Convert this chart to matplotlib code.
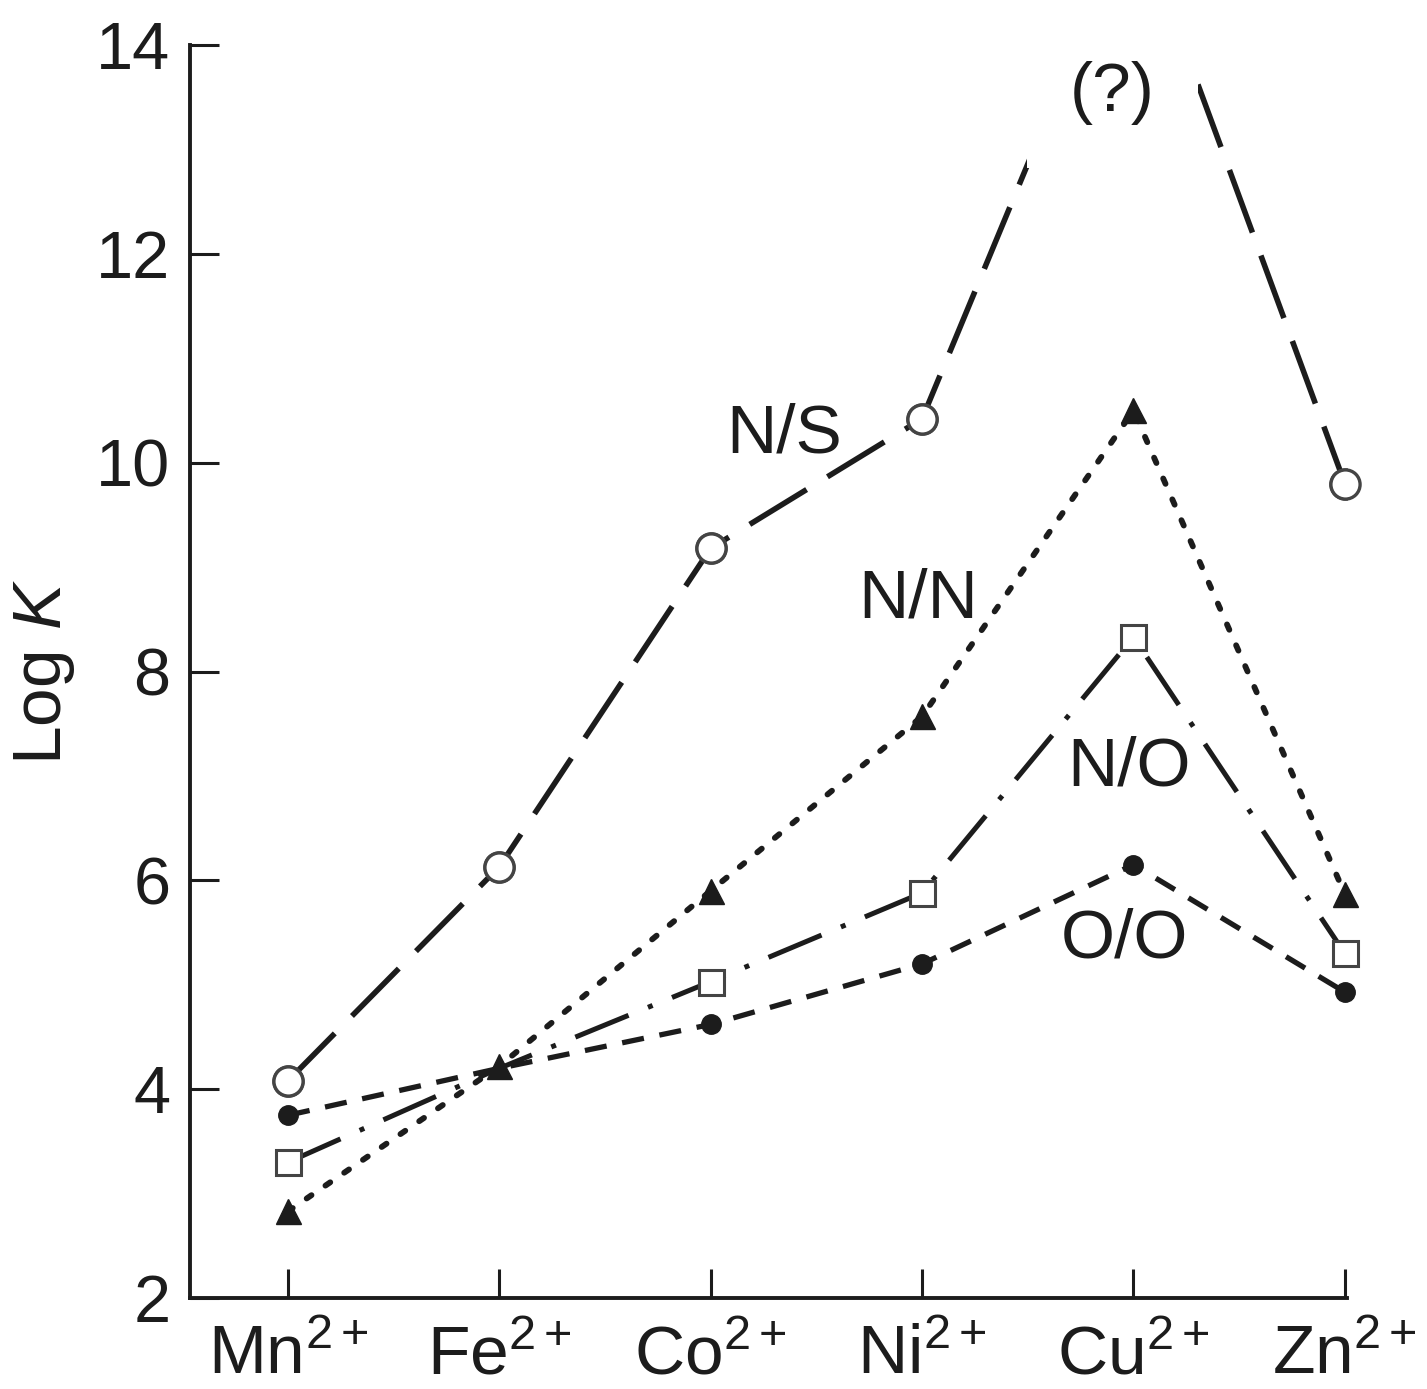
import numpy as np
import matplotlib
matplotlib.use("Agg")
import matplotlib.pyplot as plt

plt.rcParams['font.family'] = ['Liberation Sans', 'DejaVu Sans']
plt.rcParams['mathtext.fontset'] = 'custom'
plt.rcParams['mathtext.rm'] = 'Liberation Sans'
plt.rcParams['mathtext.it'] = 'Liberation Sans:italic'

# metal ions (Irving-Williams order)
ions = ['Mn', 'Fe', 'Co', 'Ni', 'Cu', 'Zn']
tick_labels = [r'%s$^{2+}$' % m for m in ions]

# log K values
ns_vals = [4.08, 6.13, 9.18, 10.42, 15.3, 9.80]   # N/S, Cu off scale (?)
nn_vals = [2.83, 4.22, 5.90, 7.57, 10.50, 5.87]   # N/N
no_vals = [3.30, 4.20, 5.03, 5.88, 8.33, 5.30]    # N/O
oo_vals = [3.75, 4.20, 4.62, 5.20, 6.15, 4.93]    # O/O

ink = '#1c1c1c'
fs = 50

fig = plt.figure(figsize=(14.27, 13.89), dpi=100)
ax = fig.add_axes([0.1331, 0.0655, 0.8108, 0.9021])

x = np.arange(len(ions))
no_fe = [0, 2, 3, 4, 5]   # Fe point hidden under the triangle in the original

ax.plot(x, oo_vals, color=ink, lw=3.8, linestyle=(0, (4.2, 3.0)),
        marker='o', ms=14, mfc=ink, mec=ink, markevery=no_fe,
        zorder=2, clip_on=False)
ax.plot(x, no_vals, color=ink, lw=3.6, linestyle=(0, (11.5, 4.2, 1, 4.2)),
        marker='s', ms=18, mfc='white', mec='#444444', mew=2.2,
        markevery=no_fe, zorder=2, clip_on=False)
ax.plot(x, ns_vals, color=ink, lw=4.0, linestyle=(0, (12, 4.4)),
        marker='o', ms=21, mfc='white', mec='#444444', mew=2.4, zorder=2)
ax.plot(x, nn_vals, color=ink, lw=4.2, linestyle=(0, (1, 2.9)),
        dash_capstyle='round', marker='^', ms=18, mfc=ink, mec=ink,
        zorder=2.5, clip_on=False)
# N/S line is clipped at the top of the axes, redraw its markers unclipped
ax.plot(x[[0, 1, 2, 3, 5]], np.array(ns_vals)[[0, 1, 2, 3, 5]], ls='none',
        marker='o', ms=21, mfc='white', mec='#444444', mew=2.4,
        zorder=2, clip_on=False)

# series labels
ax.text(2.35, 10.27, 'N/S', fontsize=fs, ha='center', va='center', color=ink)
ax.text(2.98, 8.69, 'N/N', fontsize=fs, ha='center', va='center', color=ink)
ax.text(3.98, 7.08, 'N/O', fontsize=fs, ha='center', va='center', color=ink)
ax.text(3.96, 5.43, 'O/O', fontsize=fs, ha='center', va='center', color=ink)
ax.text(3.90, 13.54, '(?)', fontsize=fs, ha='center', va='center', color=ink,
        bbox=dict(boxstyle='square,pad=0.62', fc='white', ec='none'), zorder=4)

ax.set_xlim(-0.4636, 5.01)
ax.set_ylim(2, 14)
ax.set_xticks(x)
ax.set_xticklabels(tick_labels)
ax.set_yticks(np.arange(2, 15, 2))

ax.spines['top'].set_visible(False)
ax.spines['right'].set_visible(False)
for s in ['left', 'bottom']:
    ax.spines[s].set_linewidth(2.8)
    ax.spines[s].set_color(ink)

ax.tick_params(axis='both', direction='in', length=21, width=2.2, colors=ink)
ax.tick_params(axis='x', pad=19, labelsize=fs)
ax.tick_params(axis='y', pad=14, labelsize=48)

ax.set_ylabel(r'Log $K$', fontsize=fs, color=ink, labelpad=14)

fig.savefig('out.png', dpi=100)
